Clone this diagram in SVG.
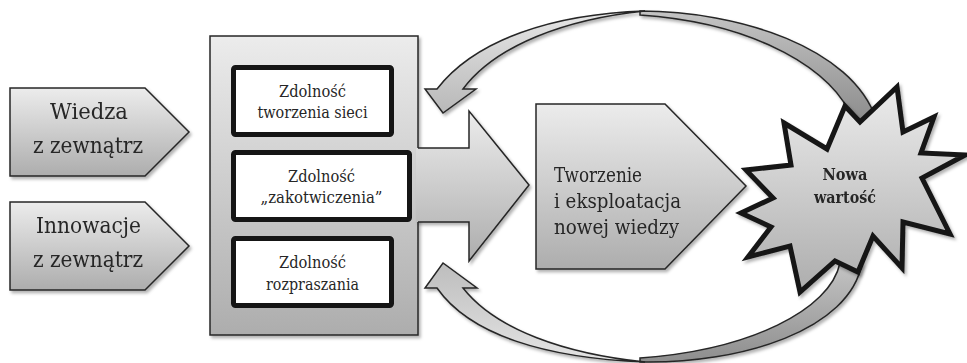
<svg xmlns="http://www.w3.org/2000/svg" width="967" height="363" viewBox="0 0 967 363">
<style>
.shape{stroke:#262626;stroke-width:1.5;stroke-linejoin:miter}
.box{fill:#ffffff;stroke:#151515;stroke-width:5}
text{font-family:'DejaVu Serif','Liberation Serif',serif;fill:#262626}
.big{font-size:23px;text-anchor:middle}
.sm{font-size:16.4px;text-anchor:middle}
.mid{font-size:21px}
.bold{font-size:16.4px;font-weight:bold;text-anchor:middle}
</style>
<defs>
<linearGradient id="g" x1="0" y1="0" x2="0" y2="1">
<stop offset="0" stop-color="#ececec"/>
<stop offset="1" stop-color="#adadad"/>
</linearGradient>
<linearGradient id="gd" x1="0" y1="0" x2="0" y2="1">
<stop offset="0" stop-color="#c4c4c4"/>
<stop offset="1" stop-color="#8e8e8e"/>
</linearGradient>
<linearGradient id="gf" x1="0" y1="0" x2="0" y2="1">
<stop offset="0" stop-color="#e6e6e6"/>
<stop offset="1" stop-color="#b8b8b8"/>
</linearGradient>
<linearGradient id="gfb" x1="0" y1="0" x2="0" y2="1">
<stop offset="0" stop-color="#bdbdbd"/>
<stop offset="1" stop-color="#e4e4e4"/>
</linearGradient>
<filter id="sh" x="-10%" y="-10%" width="130%" height="130%">
<feDropShadow dx="2" dy="2.5" stdDeviation="1.5" flood-color="#000" flood-opacity="0.3"/>
</filter>
</defs>

<g id="wiedza" filter="url(#sh)">
<path class="shape" fill="url(#g)" d="M10,88 L145,88 L189,132 L145,176 L10,176 Z"/>
<text class="big" x="89" y="119" textLength="78" lengthAdjust="spacingAndGlyphs">Wiedza</text>
<text class="big" x="88" y="153" textLength="110" lengthAdjust="spacingAndGlyphs">z zewnątrz</text>
</g>

<g id="innowacje" filter="url(#sh)">
<path class="shape" fill="url(#g)" d="M10,202 L145,202 L189,246 L145,290 L10,290 Z"/>
<text class="big" x="88.5" y="233" textLength="105" lengthAdjust="spacingAndGlyphs">Innowacje</text>
<text class="big" x="88" y="267" textLength="110" lengthAdjust="spacingAndGlyphs">z zewnątrz</text>
</g>

<g id="zdolnosci" filter="url(#sh)">
<rect class="shape" fill="url(#g)" x="210" y="36" width="208" height="299"/>
</g>

<g id="connectors">
<g id="big-arrow" filter="url(#sh)">
<path fill="url(#g)" stroke="none" d="M416,148 L469,148 L469,111 L529,185 L469,261 L469,222 L416,222 Z"/>
<path class="shape" fill="none" d="M418,148 L469,148 L469,111 L529,185 L469,261 L469,222 L418,222"/>
</g>
<g id="top-loop" filter="url(#sh)">
<path class="shape" fill="url(#gd)" d="M640,11 C740,11 852,48 876,119 L852,119 C836,72 758,23 640,15 Z"/>
<path class="shape" fill="url(#gf)" d="M437,89 C475,40 552,14 645,11 C566,19 496,45 463,89 L476,89 L443,113 L425,89 Z"/>
</g>
<g id="bottom-loop" filter="url(#sh)">
<path class="shape" fill="url(#gd)" d="M640,362 C742,364 850,330 862,263 L840,263 C830,310 750,350 640,358 Z"/>
<path class="shape" fill="url(#gfb)" d="M437,288 C470,335 545,358 645,362 C566,354 496,330 463,288 L477,288 L443,263 L425,288 Z"/>
</g>
</g>

<g id="box-sieci">
<rect class="box" x="233.5" y="67.5" width="158" height="67" rx="2"/>
<text class="sm" x="312.5" y="96.7" textLength="67" lengthAdjust="spacingAndGlyphs">Zdolność</text>
<text class="sm" x="312.5" y="118" textLength="110" lengthAdjust="spacingAndGlyphs">tworzenia sieci</text>
</g>

<g id="box-zakotwiczenia">
<rect class="box" x="233.5" y="152.5" width="176" height="67" rx="2"/>
<text class="sm" x="321.5" y="181.7" textLength="67" lengthAdjust="spacingAndGlyphs">Zdolność</text>
<text class="sm" x="321.5" y="203" textLength="122" lengthAdjust="spacingAndGlyphs">„zakotwiczenia”</text>
</g>

<g id="box-rozpraszania">
<rect class="box" x="233.5" y="238.5" width="158" height="67" rx="2"/>
<text class="sm" x="312.5" y="268" textLength="67" lengthAdjust="spacingAndGlyphs">Zdolność</text>
<text class="sm" x="312.5" y="289.5" textLength="93" lengthAdjust="spacingAndGlyphs">rozpraszania</text>
</g>

<g id="tworzenie" filter="url(#sh)">
<path class="shape" fill="url(#g)" d="M536,104 L665,104 L746,186 L665,269 L536,269 Z"/>
<text class="mid" x="554" y="182" textLength="88" lengthAdjust="spacingAndGlyphs">Tworzenie</text>
<text class="mid" x="554" y="208" textLength="127" lengthAdjust="spacingAndGlyphs">i eksploatacja</text>
<text class="mid" x="554" y="234" textLength="125" lengthAdjust="spacingAndGlyphs">nowej wiedzy</text>
</g>

<g id="nowa-wartosc" filter="url(#sh)">
<path fill="url(#g)" stroke="#151515" stroke-width="5" stroke-linejoin="miter" d="M784,123 L827,149 L845,106 L860,122 L897,87 L903,132 L934,117 L921,153 L965,155 L922,178 L950,234 L903,222 L902,268 L873,236 L858,272 L835,261 L800,292 L790,246 L748,257 L771,227 L741,213 L773,198 L746,170 L791,165 Z"/>
<text class="bold" x="845" y="180" textLength="45" lengthAdjust="spacingAndGlyphs">Nowa</text>
<text class="bold" x="845" y="203" textLength="62" lengthAdjust="spacingAndGlyphs">wartość</text>
</g>
</svg>
